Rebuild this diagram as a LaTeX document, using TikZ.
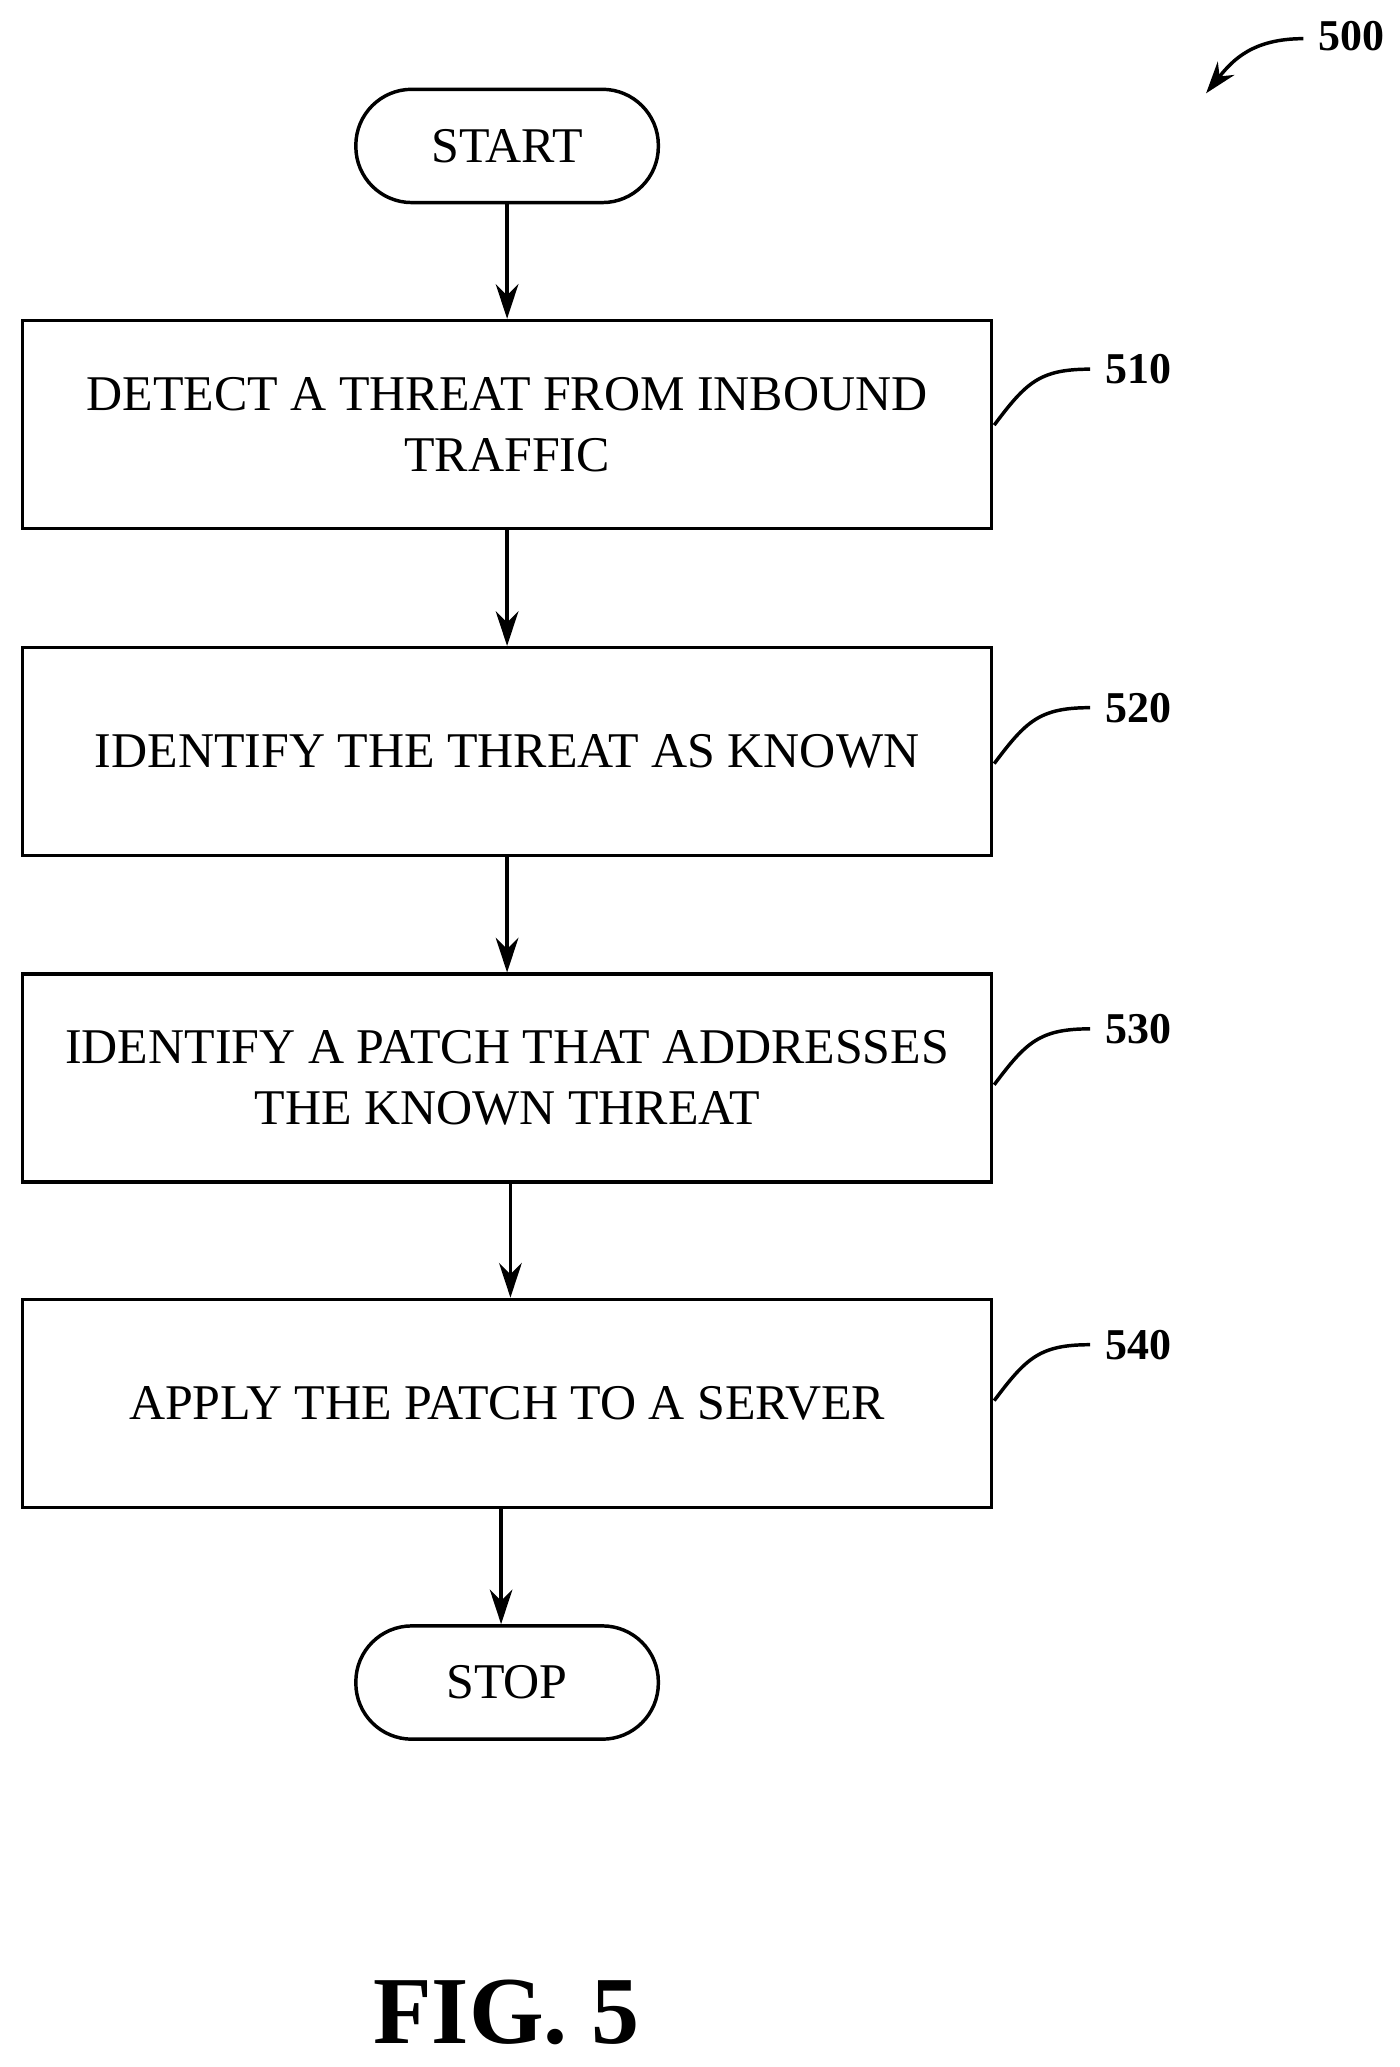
\documentclass[tikz,border=0pt]{standalone}
\usepackage{fontspec}
\setmainfont{Liberation Serif}
\usetikzlibrary{arrows.meta}
\begin{document}
\begin{tikzpicture}[x=1pt,y=-1pt,
  box/.style={draw,line width=2.6pt,minimum width=727pt,minimum height=156pt,align=center,font=\fontsize{37.5}{46}\selectfont,inner sep=0pt},
  term/.style={draw,line width=2.6pt,rounded corners=42pt,minimum width=227pt,minimum height=85pt,font=\fontsize{37.5}{40}\selectfont},
  arr/.style={line width=2.6pt,-{Stealth[length=26pt,width=17pt]}},
  lab/.style={font=\fontsize{33}{36}\selectfont\bfseries},
  lead/.style={line width=2.6pt}]
\useasboundingbox (0,0) rectangle (1050,1551);
\node[term] (start) at (380.5,109.5) {START};
\node[box] (b1) at (380.5,318.5) {DETECT A THREAT FROM INBOUND\\TRAFFIC};
\node[box] (b2) at (380.5,564) {IDENTIFY THE THREAT AS KNOWN};
\node[box] (b3) at (380.5,809) {IDENTIFY A PATCH THAT ADDRESSES\\THE KNOWN THREAT};
\node[box] (b4) at (380.5,1053) {APPLY THE PATCH TO A SERVER};
\node[term] (stop) at (380.5,1262.5) {STOP};
\draw[arr] (start) -- (b1);
\draw[arr] (b1) -- (b2);
\draw[arr] (b2) -- (b3);
\draw[arr] (b3.south -| 383,0) -- (b4.north -| 383,0);
\draw[arr] (b4.south -| 376,0) -- (stop.north -| 376,0);
\foreach \n/\y/\t in {b1/277/510,b2/531/520,b3/772/530,b4/1009/540}{
  \node[lab,anchor=west] (l\t) at (826,\y) {\t};
  \coordinate (s\t) at (746,\y+42);
  \draw[lead] (s\t) .. controls (770,\y+10) and (780,\y) .. (818,\y);
}
\node[lab,anchor=west] (l500) at (986,27) {500};
\coordinate (a500) at (978,29);
\coordinate (e500) at (905,70);
\draw[line width=2.6pt,-{Stealth[length=24pt,width=16pt]}] (a500) .. controls (940,29) and (925,45) .. (e500);
\node[font=\fontsize{72}{78}\selectfont\bfseries,inner sep=0pt] (fig) at (380,1510) {FIG. 5};
\end{tikzpicture}
\end{document}
